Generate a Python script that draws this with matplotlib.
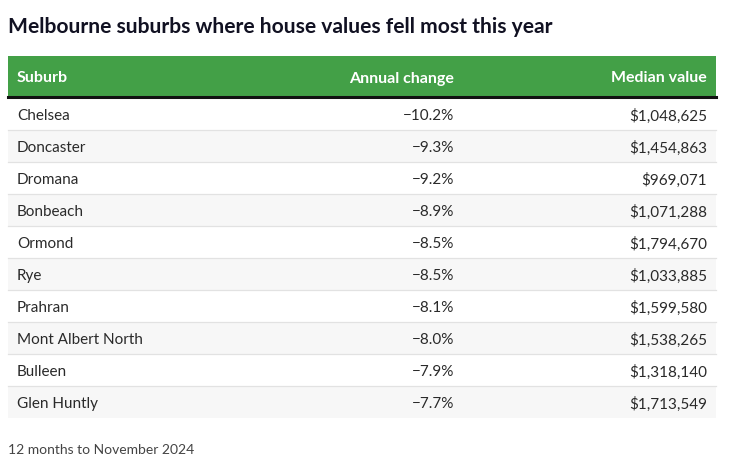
import matplotlib.pyplot as plt

suburbs = ["Chelsea", "Doncaster", "Dromana", "Bonbeach", "Ormond", "Rye",
           "Prahran", "Mont Albert North", "Bulleen", "Glen Huntly"]
annual_change = [-10.2, -9.3, -9.2, -8.9, -8.5, -8.5, -8.1, -8.0, -7.9, -7.7]
median_value = [1048625, 1454863, 969071, 1071288, 1794670, 1033885,
                1599580, 1538265, 1318140, 1713549]
headers = ["Suburb", "Annual change", "Median value"]

plt.rcParams['font.family'] = ['Lato', 'DejaVu Sans']

W, H = 736, 464
fig = plt.figure(figsize=(W / 100, H / 100), dpi=100)
ax = fig.add_axes([0, 0, 1, 1])
ax.set_xlim(0, W)
ax.set_ylim(H, 0)
ax.axis('off')

left, right = 8, 716
top_head, row_h = 57, 32
head_h = 41
green = '#43a047'

ax.text(8, 27, "Melbourne suburbs where house values fell most this year",
        fontsize=15.1, fontweight='bold', color='#111122', va='center')

# header band
ax.fill_between([left, right], top_head, top_head + head_h, color=green, lw=0)
ax.plot([left, right], [top_head + head_h, top_head + head_h], color='#111111', lw=2.2)
hy = top_head + head_h / 2 + 1
ax.text(17, hy, headers[0], color='white', fontweight='bold', fontsize=11.5, va='center')
ax.text(454, hy, headers[1], color='white', fontweight='bold', fontsize=11.5,
        va='center', ha='right')
ax.text(707, hy, headers[2], color='white', fontweight='bold', fontsize=11.5,
        va='center', ha='right')

y0 = top_head + head_h + 1
for i, (s, c, v) in enumerate(zip(suburbs, annual_change, median_value)):
    y1 = y0 + i * row_h
    if i % 2 == 1:
        ax.fill_between([left, right], y1, y1 + row_h, color='#f7f7f7', lw=0)
    if i > 0:
        ax.plot([left, right], [y1, y1], color='#e2e2e2', lw=0.9)
    yc = y1 + row_h / 2 + 1
    ax.text(17, yc, s, fontsize=11, color='#2a2a2a', va='center')
    ax.text(454, yc, f"\u2212{abs(c):.1f}%", fontsize=11, color='#2a2a2a',
            va='center', ha='right')
    ax.text(707, yc, f"${v:,}", fontsize=11, color='#2a2a2a',
            va='center', ha='right')

ax.text(8, 450, "12 months to November 2024", fontsize=10, color='#444444', va='center')

fig.savefig("out.png", dpi=100)
